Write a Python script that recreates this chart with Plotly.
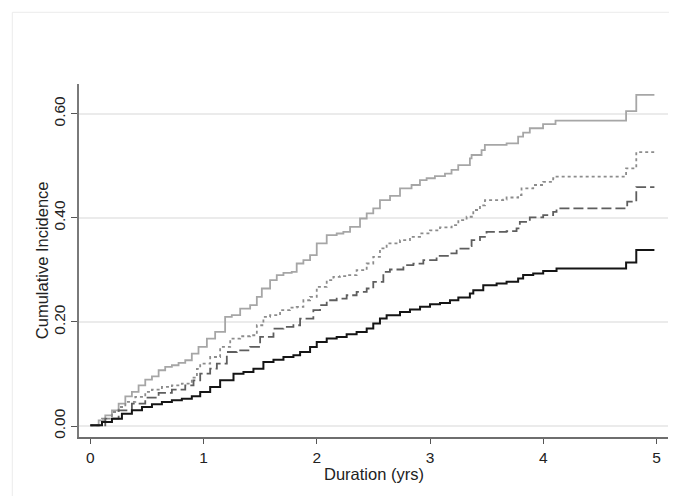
import plotly.graph_objects as go

# ---- data ----
t_top = [0, 0.0735, 0.132, 0.191, 0.250, 0.309, 0.367, 0.426, 0.485, 0.544,
         0.603, 0.661, 0.720, 0.779, 0.838, 0.896, 0.955, 1.029, 1.102, 1.190,
         1.249, 1.323, 1.411, 1.470, 1.514, 1.587, 1.646, 1.705, 1.778, 1.822,
         1.881, 1.940, 1.999, 2.087, 2.175, 2.234, 2.293, 2.381, 2.440, 2.498,
         2.557, 2.646, 2.734, 2.836, 2.910, 2.969, 3.042, 3.131, 3.189, 3.248,
         3.351, 3.366, 3.454, 3.483, 3.675, 3.777, 3.821, 3.880, 3.997, 4.107,
         4.73, 4.82, 4.98]
v_top = [0.0014, 0.011, 0.0206, 0.0302, 0.043, 0.0572, 0.0655, 0.0783, 0.0892, 0.0956,
         0.1072, 0.1136, 0.1168, 0.1213, 0.1264, 0.1392, 0.152, 0.168, 0.1808, 0.2097,
         0.2129, 0.2257, 0.2321, 0.2481, 0.2642, 0.2802, 0.2898, 0.2943, 0.2962, 0.3122,
         0.3186, 0.3282, 0.3507, 0.3667, 0.3699, 0.3731, 0.3827, 0.3987, 0.4084, 0.418,
         0.434, 0.442, 0.4565, 0.463, 0.4725, 0.476, 0.480, 0.485, 0.492, 0.501,
         0.514, 0.5206, 0.530, 0.540, 0.543, 0.556, 0.5635, 0.572, 0.580, 0.5865,
         0.605, 0.636, 0.636]

t_dot = [0, 0.103, 0.191, 0.250, 0.309, 0.397, 0.485, 0.544, 0.632, 0.720,
         0.808, 0.896, 0.941, 0.970, 1.058, 1.146, 1.235, 1.323, 1.411, 1.470,
         1.528, 1.587, 1.675, 1.764, 1.822, 1.881, 1.940, 1.999, 2.087, 2.146,
         2.204, 2.263, 2.351, 2.440, 2.498, 2.557, 2.616, 2.734, 2.822, 2.911,
         2.999, 3.087, 3.190, 3.249, 3.322, 3.381, 3.440, 3.484, 3.645, 3.675,
         3.777, 3.807, 3.910, 3.998, 4.086, 4.116, 4.73, 4.82, 4.98]
v_dot = [0.0014, 0.0142, 0.027, 0.0366, 0.0463, 0.0559, 0.0655, 0.070, 0.0751, 0.0783,
         0.0815, 0.093, 0.110, 0.1199, 0.1327, 0.152, 0.168, 0.1725, 0.1744, 0.1936,
         0.2097, 0.2129, 0.2225, 0.2276, 0.2289, 0.2417, 0.2481, 0.2673, 0.2802, 0.2866,
         0.2879, 0.2898, 0.2994, 0.3122, 0.3250, 0.3411, 0.3507, 0.357, 0.3635, 0.370,
         0.376, 0.3815, 0.386, 0.3955, 0.402, 0.415, 0.424, 0.434, 0.435, 0.439,
         0.4437, 0.4565, 0.463, 0.469, 0.476, 0.479, 0.495, 0.526, 0.526]

t_dash = [0, 0.132, 0.250, 0.367, 0.485, 0.603, 0.720, 0.838, 0.911, 0.970,
          1.058, 1.117, 1.205, 1.293, 1.411, 1.499, 1.617, 1.705, 1.793, 1.852,
          1.969, 2.028, 2.087, 2.175, 2.263, 2.351, 2.440, 2.498, 2.587, 2.645,
          2.764, 2.852, 2.940, 3.057, 3.175, 3.234, 3.351, 3.366, 3.440, 3.498,
          3.675, 3.763, 3.792, 3.880, 3.998, 4.086, 4.116, 4.74, 4.82, 4.98]
v_dash = [0.0014, 0.0142, 0.0302, 0.043, 0.0546, 0.0636, 0.070, 0.0783, 0.0879, 0.1007,
          0.1103, 0.1199, 0.1423, 0.1455, 0.152, 0.1712, 0.1872, 0.1904, 0.1936, 0.2064,
          0.2225, 0.2321, 0.2417, 0.2449, 0.2513, 0.2577, 0.2642, 0.277, 0.2962, 0.3007,
          0.309, 0.312, 0.3187, 0.327, 0.3315, 0.341, 0.3456, 0.357, 0.3635, 0.373,
          0.3744, 0.3796, 0.392, 0.4007, 0.405, 0.4115, 0.418, 0.431, 0.459, 0.459]

t_blk = [0, 0.103, 0.191, 0.279, 0.367, 0.456, 0.544, 0.632, 0.720, 0.808,
         0.896, 0.970, 1.058, 1.146, 1.264, 1.352, 1.440, 1.528, 1.617, 1.705,
         1.793, 1.852, 1.940, 1.999, 2.087, 2.175, 2.263, 2.351, 2.440, 2.498,
         2.557, 2.616, 2.734, 2.822, 2.911, 2.999, 3.087, 3.175, 3.249, 3.351,
         3.381, 3.469, 3.587, 3.675, 3.777, 3.821, 3.910, 3.998, 4.116, 4.73,
         4.82, 4.98]
v_blk = [0.0014, 0.0078, 0.0142, 0.0238, 0.0302, 0.0366, 0.0418, 0.0463, 0.0495, 0.0527,
         0.0572, 0.0654, 0.075, 0.0879, 0.1007, 0.1039, 0.1103, 0.1231, 0.1276, 0.1327,
         0.1359, 0.1423, 0.152, 0.1616, 0.168, 0.1712, 0.1763, 0.1808, 0.1872, 0.1968,
         0.2064, 0.2129, 0.219, 0.2238, 0.229, 0.234, 0.2365, 0.2417, 0.247, 0.2546,
         0.261, 0.2706, 0.2738, 0.277, 0.2835, 0.290, 0.293, 0.298, 0.3027, 0.314,
         0.338, 0.338]

x_ticks = [0, 1, 2, 3, 4, 5]
y_ticks = [0.0, 0.2, 0.4, 0.6]
y_tick_labels = ["0.00", "0.20", "0.40", "0.60"]
x_title = "Duration (yrs)"
y_title = "Cumulative Incidence"

FONT = "Liberation Sans, Arial, sans-serif"
# the page body adds an 8px offset; figure is sized so it fills the window exactly
OFF = 8
W, H = 677 - OFF, 496 - OFF
ML, MR, MT, MB = 79 - OFF, 9, 84 - OFF, 59
PW, PH = W - ML - MR, H - MT - MB


def px_x(page_x):
    return (page_x - OFF - ML) / PW


def px_y(page_y):
    return (MT + PH - (page_y - OFF)) / PH


fig = go.Figure()
fig.add_trace(go.Scatter(x=t_top, y=v_top, mode="lines", line_shape="hv",
                         line=dict(color="#a6a6a6", width=1.8), showlegend=False))
fig.add_trace(go.Scatter(x=t_dot, y=v_dot, mode="lines", line_shape="hv",
                         line=dict(color="#8c8c8c", width=1.8, dash="3px,3px"), showlegend=False))
fig.add_trace(go.Scatter(x=t_dash, y=v_dash, mode="lines", line_shape="hv",
                         line=dict(color="#5e5e5e", width=1.8, dash="10px,4px"), showlegend=False))
fig.add_trace(go.Scatter(x=t_blk, y=v_blk, mode="lines", line_shape="hv",
                         line=dict(color="#151515", width=2), showlegend=False))

fig.update_layout(
    width=W, height=H,
    margin=dict(l=ML, r=MR, t=MT, b=MB, autoexpand=False),
    paper_bgcolor="white", plot_bgcolor="white",
    font=dict(family=FONT, color="#222222"),
    xaxis=dict(range=[-0.1, 5.1], tickvals=x_ticks, ticks="outside", ticklen=5,
               tickcolor="#555555", tickwidth=1.2, automargin=False,
               showline=True, linecolor="#6e6e6e", linewidth=2,
               showgrid=False, zeroline=False,
               tickfont=dict(size=15.5, color="#222222")),
    yaxis=dict(range=[-0.021, 0.657], tickvals=y_ticks, ticktext=y_tick_labels,
               ticks="outside", ticklen=6, tickcolor="#555555", tickwidth=1.2,
               tickangle=-90, automargin=False,
               showline=True, linecolor="#7a7a7a", linewidth=1.5,
               showgrid=True, gridcolor="#ebebeb", gridwidth=1.5, zeroline=False,
               tickfont=dict(size=15.5, color="#222222")),
    annotations=[
        dict(text=x_title, xref="paper", yref="paper", x=0.5, y=px_y(474),
             xanchor="center", yanchor="middle", showarrow=False,
             font=dict(size=16.5, color="#222222")),
        dict(text=y_title, xref="paper", yref="paper", x=px_x(41.7), y=0.5,
             xanchor="center", yanchor="middle", showarrow=False, textangle=-90,
             font=dict(size=16.5, color="#222222")),
    ],
    shapes=[dict(type="rect", xref="paper", yref="paper",
                 x0=px_x(12.3), x1=px_x(671),
                 y0=px_y(505), y1=px_y(12.3),
                 line=dict(color="#ececec", width=1), fillcolor="rgba(0,0,0,0)", layer="below")],
)

fig.write_html("out.html")
